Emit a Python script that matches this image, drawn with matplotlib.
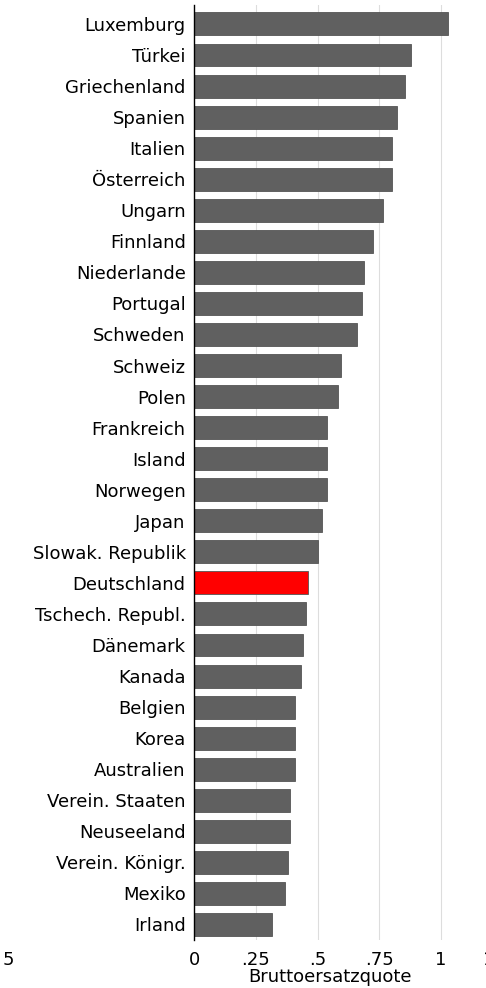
import matplotlib
matplotlib.use("Agg")
import matplotlib.pyplot as plt

plt.rcParams['font.family'] = ['DejaVu Sans']

countries = ["Luxemburg", "Türkei", "Griechenland", "Spanien", "Italien", "Österreich",
             "Ungarn", "Finnland", "Niederlande", "Portugal", "Schweden", "Schweiz",
             "Polen", "Frankreich", "Island", "Norwegen", "Japan", "Slowak. Republik",
             "Deutschland", "Tschech. Republ.", "Dänemark", "Kanada", "Belgien", "Korea",
             "Australien", "Verein. Staaten", "Neuseeland", "Verein. Königr.", "Mexiko", "Irland"]
values = [1.03, 0.88, 0.855, 0.82, 0.80, 0.80, 0.765, 0.725, 0.69, 0.68, 0.66, 0.595,
          0.585, 0.54, 0.54, 0.54, 0.52, 0.50, 0.46, 0.455, 0.44, 0.435, 0.41, 0.41,
          0.41, 0.39, 0.39, 0.38, 0.37, 0.315]
highlight = "Deutschland"
xticks = [0, 0.25, 0.5, 0.75, 1, 1.25]
xticklabels = ["0", ".25", ".5", ".75", "1", "1.25"]

W, H = 486, 988
fs = 13
fig = plt.figure(figsize=(W / 100, H / 100), dpi=100)
x0, xr = 194, 1.3
px_per_unit = 247
ax = fig.add_axes([x0 / W, 1 - 940 / H, xr * px_per_unit / W, (940 - 5) / H])

colors = ["#ff0000" if c == highlight else "#606060" for c in countries]
ypos = list(range(len(countries)))
ax.barh(ypos, values, height=0.74, color=colors, edgecolor="#555555", linewidth=0.6, zorder=3)

ax.set_xlim(0, xr)
ax.set_ylim(29.5, -0.61)
ax.set_yticks(ypos)
ax.set_yticklabels(countries, fontsize=fs)
ax.tick_params(axis='y', length=0, pad=6)
ax.set_xticks(xticks)
ax.set_xticklabels(xticklabels, fontsize=fs)
ax.tick_params(axis='x', length=0, pad=8)

for v in [0.25, 0.5, 0.75, 1.0]:
    ax.axvline(v, color="#dddddd", linewidth=0.8, zorder=1)

for s in ["top", "right", "bottom"]:
    ax.spines[s].set_visible(False)
ax.spines["left"].set_color("black")
ax.spines["left"].set_linewidth(1.0)
ax.spines["left"].set_zorder(4)

fig.text(330 / W, 1 - 977 / H, "Bruttoersatzquote", fontsize=fs, ha="center", va="center")
fig.text(3 / W, 1 - 960 / H, "5", fontsize=fs, ha="left", va="center")

fig.savefig("out.png", dpi=100)
